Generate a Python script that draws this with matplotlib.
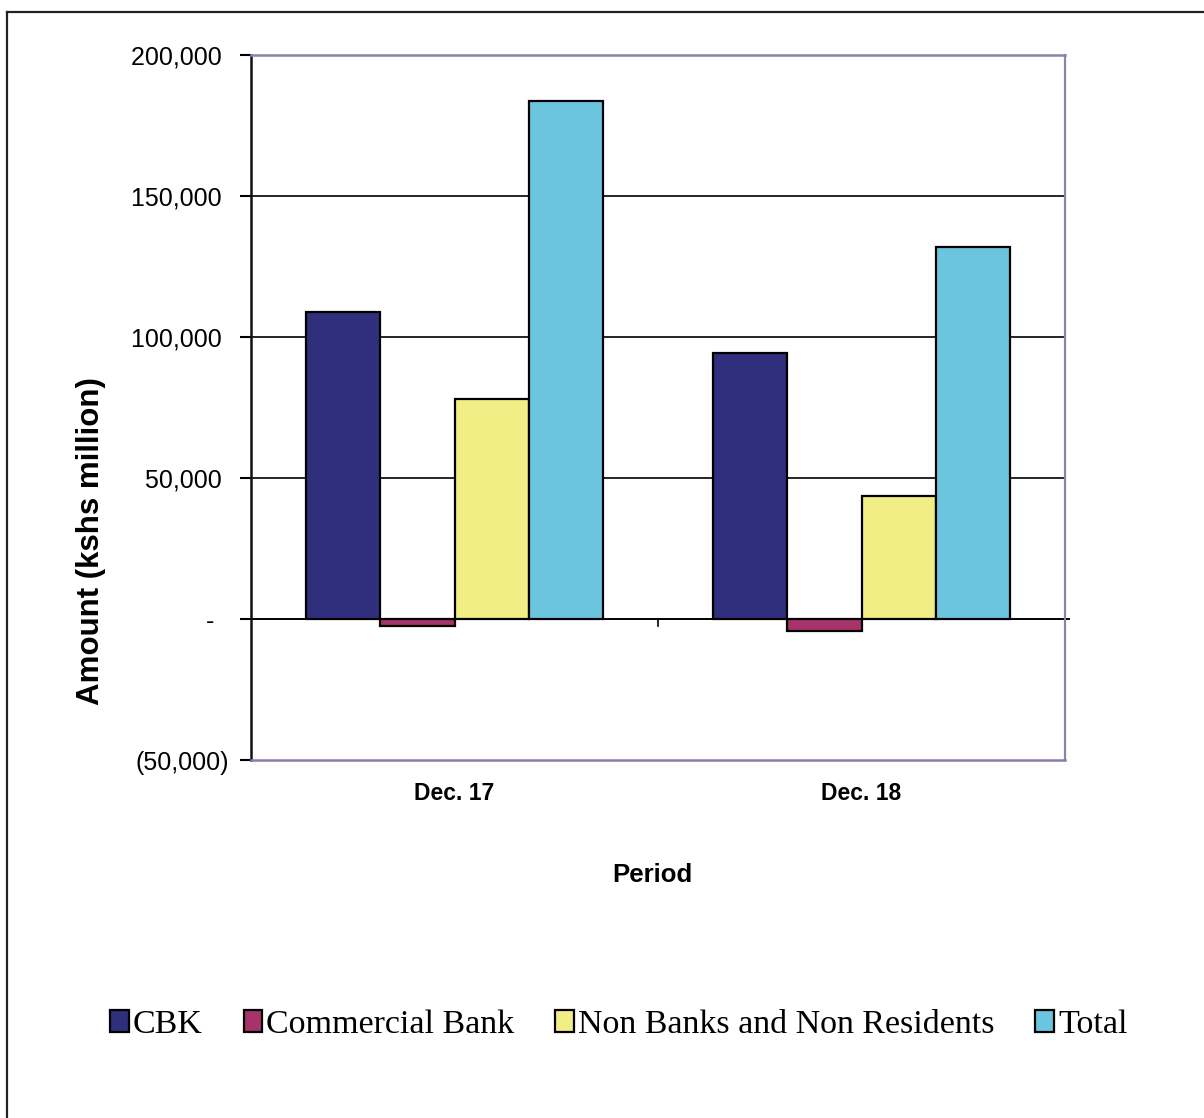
import numpy as np
import matplotlib
matplotlib.use("Agg")
import matplotlib.pyplot as plt
from matplotlib.ticker import FuncFormatter, MultipleLocator
from matplotlib.lines import Line2D

# net domestic holdings, kshs million
periods = ["Dec. 17", "Dec. 18"]
series = ["CBK", "Commercial Bank", "Non Banks and Non Residents", "Total"]
cbk = [109000, 94300]
commercial_bank = [-2500, -4300]
non_banks = [78000, 43600]
total = [183700, 131900]
colors = ["#2f2f7e", "#a8326a", "#f1ee85", "#6cc5de"]

values = [cbk, commercial_bank, non_banks, total]

fig = plt.figure(figsize=(12.04, 11.18), dpi=100)
ax = fig.add_axes([0.2085, 0.3202, 0.6761, 0.6306])

x = np.arange(len(periods))
width = 0.182
offsets = (np.arange(len(series)) - 1.5) * width
bars = []
for vals, off, col, name in zip(values, offsets, colors, series):
    b = ax.bar(x + off, vals, width, color=col, edgecolor="black",
               linewidth=1.6, label=name, zorder=3)
    bars.append(b)

ax.set_xlim(-0.5, 1.5)
ax.set_ylim(-50000, 200000)
ax.yaxis.set_major_locator(MultipleLocator(50000))


def acct(v, pos):
    if v > 0:
        return f"{v:,.0f} "
    if v < 0:
        return f"({-v:,.0f})"
    return "-  "


ax.yaxis.set_major_formatter(FuncFormatter(acct))
for yv in [50000, 100000, 150000]:
    ax.axhline(yv, color="black", lw=1.2, zorder=1)
ax.plot([-0.5, 1.51], [0, 0], color="black", lw=1.4, zorder=2, clip_on=False)
# category divider tick on the zero line
ax.plot([0.5, 0.5], [0, -2500], color="black", lw=1.2, zorder=2)

ax.set_xticks(x)
ax.set_xticklabels(periods, fontfamily="Liberation Sans", fontweight="bold",
                   fontsize=16.5)
ax.tick_params(axis="x", length=0, pad=16)
ax.tick_params(axis="y", direction="out", length=8, width=1.5, pad=8,
               labelsize=18, labelfontfamily="Liberation Sans")

ax.spines["left"].set_color("#111111")
ax.spines["left"].set_linewidth(1.8)
ax.spines["top"].set_color("#8a84a6")
ax.spines["top"].set_linewidth(1.8)
ax.spines["right"].set_color("#8a84a6")
ax.spines["right"].set_linewidth(1.6)
ax.spines["bottom"].set_color("#8d7ca8")
ax.spines["bottom"].set_linewidth(1.8)

ax.set_ylabel("Amount (kshs million)", fontfamily="Liberation Sans",
              fontweight="bold", fontsize=22.5)
ax.yaxis.set_label_coords(-0.178, 0.31)
fig.text(652 / 1204, 1 - 875 / 1118, "Period", fontfamily="Liberation Sans",
         fontweight="bold", fontsize=18.5, ha="center", va="center")

fig.legend(handles=bars, labels=series, loc="center",
           bbox_to_anchor=(0.514, 1 - 1025 / 1118), ncol=4, frameon=False,
           prop={"family": "Liberation Serif", "size": 24.5},
           handlelength=0.55, handleheight=0.6, handletextpad=0.12,
           columnspacing=1.2, borderpad=0)

# page frame around the chart
fig.add_artist(Line2D([7 / 1204, 7 / 1204], [0, 1 - 12 / 1118],
                      transform=fig.transFigure, color="#222222", lw=1.6))
fig.add_artist(Line2D([7 / 1204, 1], [1 - 12 / 1118, 1 - 12 / 1118],
                      transform=fig.transFigure, color="#222222", lw=1.6))

fig.savefig("out.png", dpi=100)
